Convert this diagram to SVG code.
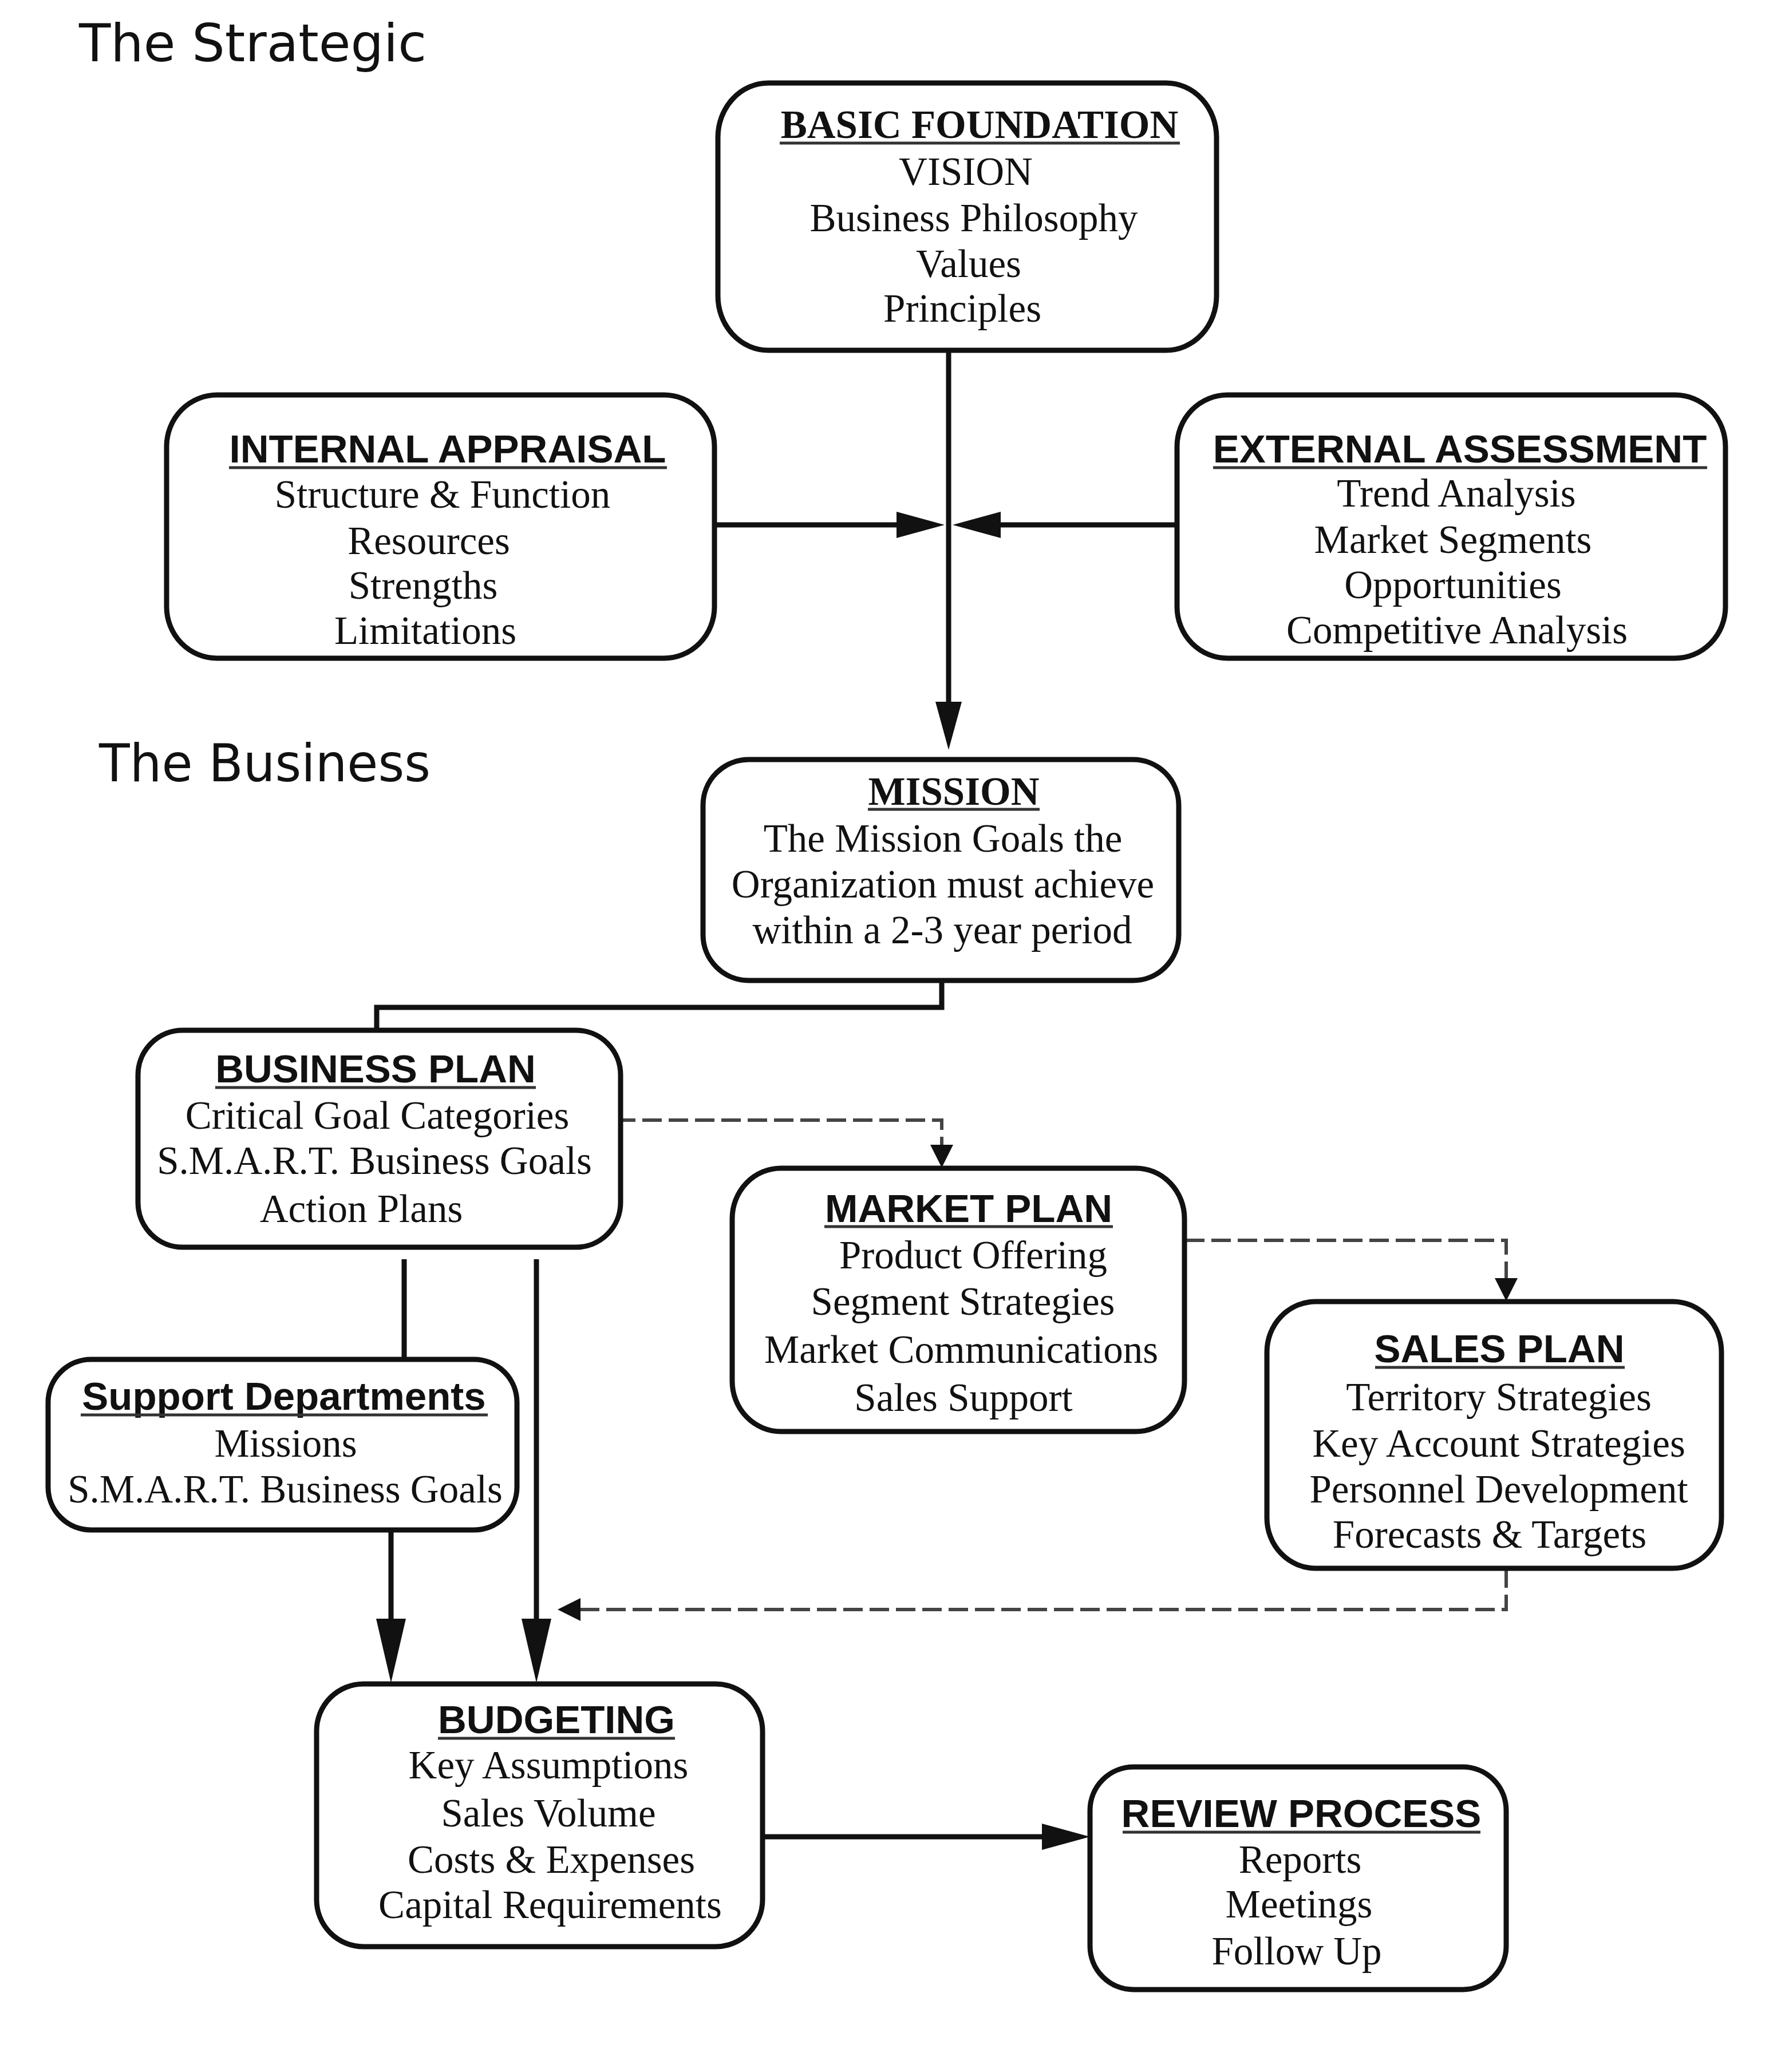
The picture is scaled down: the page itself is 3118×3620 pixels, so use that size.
<svg xmlns="http://www.w3.org/2000/svg" width="3118" height="3620" viewBox="0 0 3118 3620">
<style>
.box{fill:#fff;stroke:#111;stroke-width:9}
.ts{font-family:"Liberation Sans",Arial,sans-serif;font-weight:bold;font-size:69px;fill:#111;text-anchor:middle}
.tr{font-family:"Liberation Serif","Times New Roman",serif;font-weight:bold;font-size:69px;fill:#111;text-anchor:middle}
.b{font-family:"Liberation Serif","Times New Roman",serif;font-size:69px;fill:#111;text-anchor:middle}
.ul{stroke:#333;stroke-width:5}
.sec{font-family:"DejaVu Sans",Verdana,sans-serif;font-size:90px;fill:#111}
.ln{fill:none;stroke:#111;stroke-width:9}
.dl{fill:none;stroke:#444;stroke-width:6;stroke-dasharray:34 12}
</style>
<defs>
<marker id="ahL" markerUnits="userSpaceOnUse" markerWidth="112" markerHeight="52" viewBox="0 0 112 52" refX="0" refY="26" orient="auto"><path d="M0,0 L112,26 L0,52 z" fill="#111"/></marker>
<marker id="ahM" markerUnits="userSpaceOnUse" markerWidth="84" markerHeight="46" viewBox="0 0 84 46" refX="0" refY="23" orient="auto"><path d="M0,0 L84,23 L0,46 z" fill="#111"/></marker>
<marker id="ahS" markerUnits="userSpaceOnUse" markerWidth="40" markerHeight="40" viewBox="0 0 40 40" refX="0" refY="20" orient="auto"><path d="M0,0 L40,20 L0,40 z" fill="#111"/></marker>
</defs>
<rect width="3118" height="3620" fill="#fff"/>

<text id="label-strategic" class="sec" x="138" y="107" textLength="607" lengthAdjust="spacingAndGlyphs">The Strategic</text>
<text id="label-business" class="sec" x="173" y="1365" textLength="579" lengthAdjust="spacingAndGlyphs">The Business</text>

<g id="connectors">
<path class="ln" d="M1657,612 V1226" marker-end="url(#ahM)"/>
<path class="ln" d="M1238,917 H1566" marker-end="url(#ahM)"/>
<path class="ln" d="M2056,917 H1748" marker-end="url(#ahM)"/>
<path class="ln" d="M1645,1700 V1760 H658 V1800"/>
<path class="dl" d="M1076,1957 H1645 V2000" marker-end="url(#ahS)"/>
<path class="dl" d="M2070,2167 H2631 V2233" marker-end="url(#ahS)"/>
<path class="dl" d="M2631,2740 V2812 H1014" marker-end="url(#ahS)"/>
<path class="ln" d="M706,2200 V2375"/>
<path class="ln" d="M937,2200 V2828" marker-end="url(#ahL)"/>
<path class="ln" d="M683,2673 V2828" marker-end="url(#ahL)"/>
<path class="ln" d="M1332,3209 H1820" marker-end="url(#ahM)"/>
</g>

<g id="basic-foundation">
<rect class="box" x="1254" y="145" width="871" height="467" rx="88" ry="95"/>
<text class="tr" x="1711" y="241">BASIC FOUNDATION</text>
<line class="ul" x1="1362" y1="250" x2="2061" y2="250"/>
<text class="b" x="1687" y="323">VISION</text>
<text class="b" x="1701" y="404">Business Philosophy</text>
<text class="b" x="1692" y="484">Values</text>
<text class="b" x="1681" y="562">Principles</text>
</g>

<g id="internal-appraisal">
<rect class="box" x="291" y="690" width="957" height="460" rx="88" ry="90"/>
<text class="ts" x="782" y="808">INTERNAL APPRAISAL</text>
<line class="ul" x1="400" y1="817" x2="1165" y2="817"/>
<text class="b" x="773" y="887">Structure &amp; Function</text>
<text class="b" x="749" y="968">Resources</text>
<text class="b" x="739" y="1046">Strengths</text>
<text class="b" x="743" y="1125">Limitations</text>
</g>

<g id="external-assessment">
<rect class="box" x="2056" y="690" width="958" height="460" rx="88" ry="90"/>
<text class="ts" x="2550" y="808">EXTERNAL ASSESSMENT</text>
<line class="ul" x1="2119" y1="817" x2="2982" y2="817"/>
<text class="b" x="2544" y="885">Trend Analysis</text>
<text class="b" x="2538" y="966">Market Segments</text>
<text class="b" x="2538" y="1045">Opportunities</text>
<text class="b" x="2545" y="1124">Competitive Analysis</text>
</g>

<g id="mission">
<rect class="box" x="1228" y="1327" width="831" height="386" rx="80" ry="80"/>
<text class="tr" x="1666" y="1406">MISSION</text>
<line class="ul" x1="1516" y1="1414" x2="1816" y2="1414"/>
<text class="b" x="1647" y="1488">The Mission Goals the</text>
<text class="b" x="1647" y="1568">Organization must achieve</text>
<text class="b" x="1646" y="1648">within a 2-3 year period</text>
</g>

<g id="business-plan">
<rect class="box" x="241" y="1800" width="843" height="379" rx="78" ry="78"/>
<text class="ts" x="656" y="1891">BUSINESS PLAN</text>
<line class="ul" x1="376" y1="1900" x2="936" y2="1900"/>
<text class="b" x="659" y="1972">Critical Goal Categories</text>
<text class="b" x="654" y="2051">S.M.A.R.T. Business Goals</text>
<text class="b" x="631" y="2135">Action Plans</text>
</g>

<g id="market-plan">
<rect class="box" x="1279" y="2041" width="790" height="460" rx="85" ry="88"/>
<text class="ts" x="1692" y="2135">MARKET PLAN</text>
<line class="ul" x1="1440" y1="2143" x2="1944" y2="2143"/>
<text class="b" x="1700" y="2216">Product Offering</text>
<text class="b" x="1682" y="2297">Segment Strategies</text>
<text class="b" x="1679" y="2381">Market Communications</text>
<text class="b" x="1683" y="2465">Sales Support</text>
</g>

<g id="sales-plan">
<rect class="box" x="2213" y="2274" width="794" height="466" rx="85" ry="88"/>
<text class="ts" x="2619" y="2380">SALES PLAN</text>
<line class="ul" x1="2402" y1="2389" x2="2838" y2="2389"/>
<text class="b" x="2618" y="2464">Territory Strategies</text>
<text class="b" x="2618" y="2545">Key Account Strategies</text>
<text class="b" x="2618" y="2625">Personnel Development</text>
<text class="b" x="2602" y="2704">Forecasts &amp; Targets</text>
</g>

<g id="support-departments">
<rect class="box" x="84" y="2375" width="819" height="298" rx="75" ry="75"/>
<text class="ts" x="496" y="2463">Support Departments</text>
<line class="ul" x1="141" y1="2472" x2="852" y2="2472"/>
<text class="b" x="499" y="2545">Missions</text>
<text class="b" x="498" y="2625">S.M.A.R.T. Business Goals</text>
</g>

<g id="budgeting">
<rect class="box" x="553" y="2942" width="779" height="459" rx="82" ry="82"/>
<text class="ts" x="972" y="3028">BUDGETING</text>
<line class="ul" x1="765" y1="3037" x2="1179" y2="3037"/>
<text class="b" x="958" y="3107">Key Assumptions</text>
<text class="b" x="958" y="3191">Sales Volume</text>
<text class="b" x="963" y="3272">Costs &amp; Expenses</text>
<text class="b" x="961" y="3351">Capital Requirements</text>
</g>

<g id="review-process">
<rect class="box" x="1904" y="3087" width="727" height="389" rx="76" ry="76"/>
<text class="ts" x="2273" y="3192">REVIEW PROCESS</text>
<line class="ul" x1="1961" y1="3201" x2="2586" y2="3201"/>
<text class="b" x="2271" y="3272">Reports</text>
<text class="b" x="2269" y="3350">Meetings</text>
<text class="b" x="2265" y="3432">Follow Up</text>
</g>
</svg>
